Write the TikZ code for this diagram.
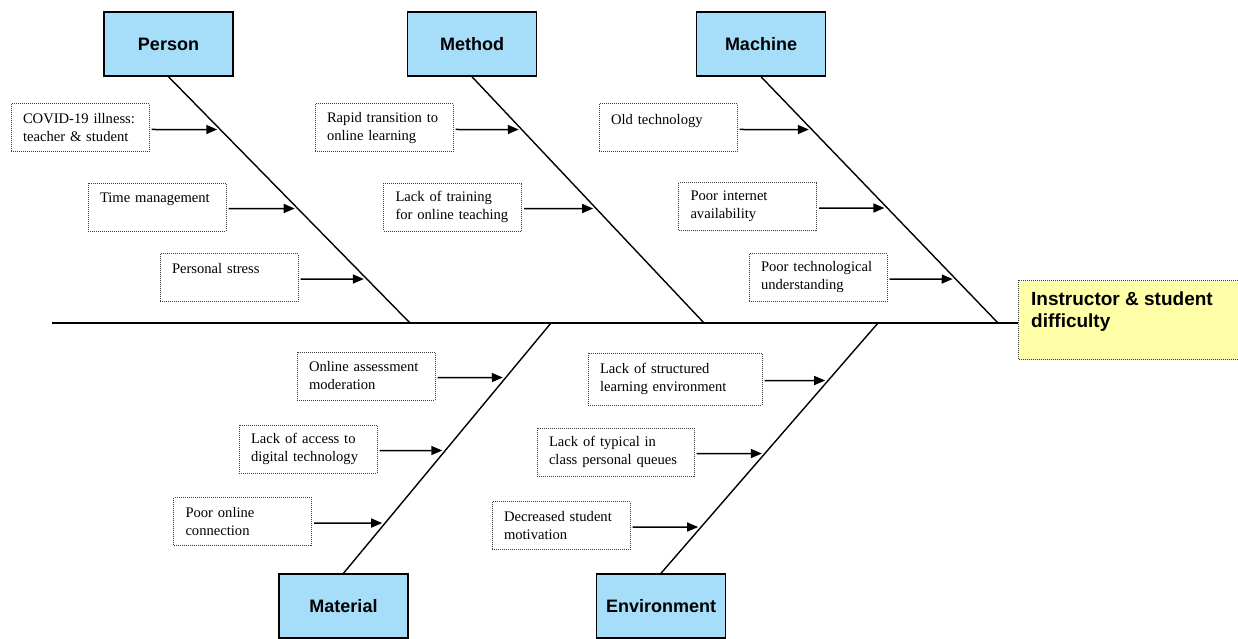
\documentclass[tikz,border=0pt]{standalone}
\usepackage{fontspec}
\setmainfont{Liberation Serif}
\setsansfont{Liberation Sans}
\usetikzlibrary{arrows.meta,calc}
\definecolor{catblue}{RGB}{166,222,250}
\definecolor{effyellow}{RGB}{255,255,168}
\definecolor{dotgray}{RGB}{60,60,60}
\hyphenpenalty=10000
\newcommand\feed[3]{%
  \coordinate (#1a) at ([yshift=-1.5pt]#1.east);
  \coordinate (#1b) at ([xshift=400pt]#1a);
  \coordinate (#1t) at (intersection of #1a--#1b and #2--#3);
  \draw[feedarrow] (#1a) -- (#1t);}
\begin{document}
\begin{tikzpicture}[x=1pt,y=-1pt,
  cat/.style={draw=black,line width=1.5pt,fill=catblue,minimum width=129pt,minimum height=64pt,inner sep=0pt,font=\sffamily\bfseries\fontsize{18}{21}\selectfont},
  cause/.style={draw=dotgray,line width=1pt,dash pattern=on 1pt off 1pt,text width=#1,inner xsep=12pt,inner ysep=0pt,minimum height=48pt,align=left,font=\fontsize{14.6}{18}\selectfont},
  cause/.default=114pt,
  effbox/.style={draw=dotgray,line width=1pt,dash pattern=on 1pt off 1pt,fill=effyellow,minimum width=240pt,minimum height=79pt,inner sep=0pt},
  efftext/.style={inner sep=0pt,align=left,font=\sffamily\bfseries\fontsize{19}{22}\selectfont},
  bone/.style={line width=1.4pt},
  spine/.style={line width=1.7pt},
  feedarrow/.style={line width=1.5pt,-{Triangle[length=11pt,width=9pt]},shorten <=2pt,shorten >=3pt}]
\useasboundingbox (0,0) rectangle (1238,639);
\clip (0,0) rectangle (1238,639);

% category boxes
\node[cat] (Person) at (168.5,44) {Person};
\node[cat] (Method) at (472,44) {Method};
\node[cat] (Machine) at (761,44) {Machine};
\node[cat] (Material) at (343.5,606) {Material};
\node[cat] (Environment) at (661,606) {Environment};

% effect
\node[effbox,anchor=north west] (Effect) at (1018,280) {};
\node[efftext,anchor=north west] (EffectText) at (1031,292) {Instructor \& student\\difficulty};

% spine
\coordinate (SpineL) at (52,323);
\draw[spine] (SpineL) -- (SpineL -| Effect.west);

% bones
\coordinate (PersonT) at (Person.south);
\coordinate (MethodT) at (Method.south);
\coordinate (MachineT) at (Machine.south);
\coordinate (MaterialT) at (Material.north);
\coordinate (EnvironmentT) at (Environment.north);
\coordinate (PersonB) at (410,323);
\coordinate (MethodB) at (704,323);
\coordinate (MachineB) at (998,323);
\coordinate (MaterialB) at (551,323);
\coordinate (EnvironmentB) at (878,323);
\draw[bone] (PersonT) -- (PersonB);
\draw[bone] (MethodT) -- (MethodB);
\draw[bone] (MachineT) -- (MachineB);
\draw[bone] (MaterialT) -- (MaterialB);
\draw[bone] (EnvironmentT) -- (EnvironmentB);

% causes
\node[cause] (P1) at (80,128) {COVID-19 illness:\\teacher \& student};
\node[cause] (P2) at (157,207) {Time management\\\mbox{}};
\node[cause] (P3) at (229,277.5) {Personal stress\\\mbox{}};
\node[cause] (M1) at (384,128) {Rapid transition to\\online learning};
\node[cause] (M2) at (452.5,207) {Lack of training\\for online teaching};
\node[cause] (C1) at (668,128) {Old technology\\\mbox{}};
\node[cause] (C2) at (747.5,206.5) {Poor internet\\availability};
\node[cause] (C3) at (818,277.5) {Poor technological\\understanding};
\node[cause] (T1) at (366,376) {Online assessment\\moderation};
\node[cause] (T2) at (308,449) {Lack of access to\\digital technology};
\node[cause] (T3) at (242.5,521.5) {Poor online\\connection};
\node[cause=150pt,minimum height=52pt] (E1) at (675,379) {Lack of structured\\learning environment};
\node[cause=133pt] (E2) at (615.5,452) {Lack of typical in\\class personal queues};
\node[cause] (E3) at (561,525.5) {Decreased student\\motivation};

% arrows
\feed{P1}{PersonT}{PersonB}
\feed{P2}{PersonT}{PersonB}
\feed{P3}{PersonT}{PersonB}
\feed{M1}{MethodT}{MethodB}
\feed{M2}{MethodT}{MethodB}
\feed{C1}{MachineT}{MachineB}
\feed{C2}{MachineT}{MachineB}
\feed{C3}{MachineT}{MachineB}
\feed{T1}{MaterialT}{MaterialB}
\feed{T2}{MaterialT}{MaterialB}
\feed{T3}{MaterialT}{MaterialB}
\feed{E1}{EnvironmentT}{EnvironmentB}
\feed{E2}{EnvironmentT}{EnvironmentB}
\feed{E3}{EnvironmentT}{EnvironmentB}
\end{tikzpicture}
\end{document}
